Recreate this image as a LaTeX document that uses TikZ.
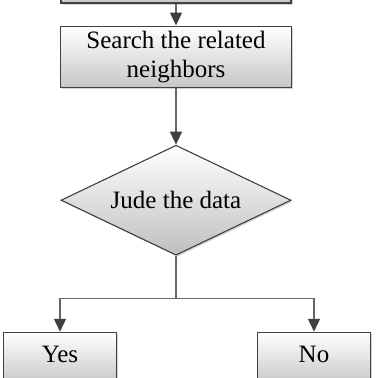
\documentclass[tikz,border=0pt]{standalone}
\usepackage{fontspec}
\setmainfont{Liberation Serif}
\usetikzlibrary{arrows.meta, positioning, shapes.geometric, calc, shadows}

\begin{document}
\begin{tikzpicture}[
  box/.style  = {draw=black!75, line width=1.1pt, rectangle, align=center,
                 top color=white, bottom color=black!22,
                 drop shadow={shadow xshift=1.5pt, shadow yshift=-1.5pt, opacity=0.35},
                 font=\fontsize{25}{29}\selectfont},
  judge/.style = {draw=black!75, line width=1.1pt, diamond, aspect=2.1, inner sep=0pt,
                 minimum width=230pt, minimum height=110pt,
                 top color=white, bottom color=black!25,
                 drop shadow={shadow xshift=1.5pt, shadow yshift=-1.5pt, opacity=0.35},
                 font=\fontsize{25}{29}\selectfont},
  arr/.style  = {draw=black!60, line width=1.4pt,
                 -{Triangle[width=12pt,length=13pt,color=black!75]}},
  line/.style = {draw=black!60, line width=1.4pt},
]
  \clip (0,0) rectangle (378pt,-378pt);

%--- chain of steps ---
  \node[box, minimum width=230pt, minimum height=40pt] at (176pt,17pt) (prev) {};
  \node[box, below=22pt of prev, minimum width=231pt, minimum height=61pt]
                                                  (search) {Search the related\\neighbors};
  \node[judge, below=57pt of search]              (jude)   {Jude the data};

  % branch point under the decision
  \coordinate (split) at ($(jude.south)+(0,-43pt)$);

  \node[box, anchor=north, minimum width=113pt, minimum height=52pt, text depth=8pt]
        at ($(split)+(-116pt,-33pt)$)              (yes)    {Yes};
  \node[box, anchor=north, minimum width=113pt, minimum height=52pt, text depth=8pt]
        at ($(split)+(138pt,-33pt)$)               (no)     {No};

  \draw[arr]  (prev)   -- (search);
  \draw[arr]  (search) -- (jude);
  \draw[line] (jude.south) -- (split);
  \draw[arr]  (split) -| (yes.north);
  \draw[arr]  (split) -| (no.north);
\end{tikzpicture}
\end{document}
